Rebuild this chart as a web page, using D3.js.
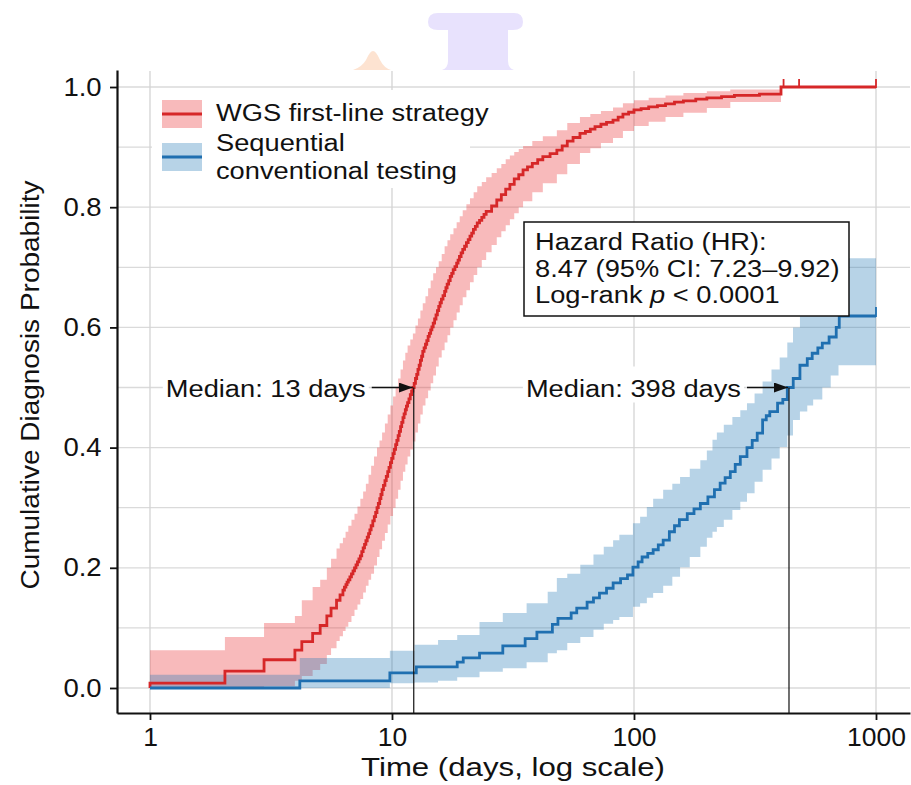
<!DOCTYPE html>
<html><head><meta charset="utf-8">
<script src="https://cdn.jsdelivr.net/npm/d3@7"></script>
<style>
body{margin:0;background:#fff}
svg{display:block}
text{font-family:"Liberation Sans", Arial, Helvetica, sans-serif; fill:#111}
</style>
</head><body>
<svg id="chart" width="911" height="785"></svg>
<script>
// ---------- DATA ----------
const xTickValues = [1, 10, 100, 1000];
const xTickLabels = ["1", "10", "100", "1000"];
const yTickValues = [0, 0.2, 0.4, 0.6, 0.8, 1.0];
const yTickLabels = ["0.0", "0.2", "0.4", "0.6", "0.8", "1.0"];
const yGridValues = [0, 0.1, 0.2, 0.3, 0.4, 0.5, 0.6, 0.7, 0.8, 0.9, 1.0];

const seriesNames = ["WGS first-line strategy", "Sequential|conventional testing"];

// WGS first-line strategy (Kaplan-Meier cumulative incidence)
const redTimes = [1,2.04,2.96,3.97,4.24,4.7,5.05,5.38,5.6,5.9,6.1,6.27,6.36,6.45,6.52,6.6,6.7,6.8,6.9,7.0,7.1,7.2,7.3,7.4,7.5,7.6,7.7,7.8,7.9,8.0,8.1,8.2,8.33,8.45,8.56,8.67,8.78,8.9,9.0,9.1,9.22,9.35,9.47,9.6,9.72,9.85,9.97,10.1,10.22,10.35,10.47,10.6,10.72,10.85,10.97,11.1,11.22,11.35,11.47,11.6,11.75,11.9,12.05,12.2,12.35,12.5,12.65,12.8,12.95,13.1,13.25,13.4,13.57,13.75,13.92,14.1,14.27,14.45,14.62,14.8,15.0,15.2,15.4,15.6,15.8,16.0,16.25,16.5,16.7,16.9,17.15,17.4,17.65,17.9,18.2,18.5,18.75,19.0,19.3,19.6,19.95,20.3,20.65,21.0,21.35,21.7,22.1,22.5,23.0,23.5,24.0,24.5,25.8,27.1,28.3,29.5,30.7,32,33.4,34.8,36.3,38,40,42,45,48,50.5,53,56,59.8,63,66,69,73,77,81.9,86,90,95,100,107,115,125,135,147,160,180,200,230,260,330,405,1000];
const redEst = [.008,.028,.047,.063,.077,.091,.104,.12,.133,.146,.155,.163,.168,.172,.176,.18,.185,.19,.195,.20,.205,.21,.215,.22,.227,.233,.239,.245,.251,.257,.263,.27,.278,.285,.292,.30,.307,.315,.322,.33,.337,.345,.352,.36,.367,.375,.382,.39,.397,.405,.412,.42,.427,.435,.442,.45,.456,.463,.469,.475,.481,.488,.494,.50,.507,.515,.522,.53,.537,.545,.552,.56,.566,.572,.578,.585,.59,.596,.601,.607,.614,.621,.628,.635,.641,.647,.653,.66,.666,.672,.678,.685,.69,.696,.701,.707,.712,.718,.724,.73,.735,.741,.746,.752,.757,.763,.768,.774,.778,.783,.788,.793,.802,.812,.821,.83,.838,.847,.854,.862,.867,.873,.879,.884,.889,.895,.902,.91,.916,.923,.926,.93,.934,.938,.941,.945,.95,.955,.958,.962,.964,.967,.969,.972,.975,.977,.98,.982,.984,.986,.988,1.0,1.0];
const redBandTimes = [1,2.04,2.96,3.97,4.24,4.7,5.05,5.38,5.6,5.9,6.08,6.27,6.43,6.6,6.8,7.0,7.2,7.4,7.6,7.8,8.0,8.2,8.43,8.67,8.88,9.1,9.35,9.6,9.85,10.1,10.35,10.6,10.85,11.1,11.35,11.6,11.9,12.2,12.5,12.8,13.1,13.4,13.75,14.1,14.45,14.8,15.2,15.6,16.05,16.5,16.95,17.4,17.95,18.5,19.05,19.6,20.3,21.0,21.75,22.5,23.5,24.5,25.8,27.1,28.3,29.5,30.7,32,33.4,34.8,38,42,48,53,59.8,66,73,81.9,90,100,115,135,160,200,250,405];
const redLower = [0,0,.003,.012,.02,.03,.04,.055,.066,.078,.086,.095,.102,.11,.12,.13,.139,.148,.159,.17,.18,.19,.204,.218,.231,.245,.258,.272,.286,.30,.315,.33,.345,.36,.372,.385,.397,.41,.425,.44,.455,.47,.482,.495,.507,.52,.535,.55,.562,.575,.587,.60,.612,.625,.637,.65,.662,.675,.687,.70,.712,.725,.737,.75,.76,.77,.78,.79,.80,.81,.825,.84,.855,.872,.89,.898,.907,.915,.927,.935,.942,.95,.957,.965,.975,1.0];
const redUpper = [.063,.085,.108,.12,.146,.168,.18,.2,.215,.232,.241,.25,.26,.27,.28,.29,.302,.315,.327,.34,.355,.37,.385,.40,.412,.425,.44,.455,.47,.485,.50,.515,.53,.545,.558,.57,.58,.59,.603,.615,.628,.64,.652,.665,.678,.69,.70,.71,.722,.735,.745,.755,.765,.775,.785,.795,.805,.815,.825,.835,.842,.85,.857,.865,.872,.88,.886,.892,.897,.902,.91,.918,.928,.94,.95,.955,.96,.966,.973,.978,.982,.986,.99,.993,.996,1.0];
const redCensorTimes = [415, 481, 1000];

// Sequential conventional testing
const blueTimes = [1,4.16,9.8,12.6,18.6,19.7,23,28.7,35.5,39.7,46,48.5,55,58,64,68,72,77,82,88,94,99,104,108,114,120,126,132,140,147,154,166,177,188,202,215,227,238,250,262,275,293,308,323,340,352,364,392,412,430,455,485,520,545,575,600,640,685,705,1000];
const blueEst = [0,.012,.025,.035,.043,.05,.058,.07,.082,.093,.106,.116,.125,.133,.143,.15,.158,.166,.175,.182,.188,.201,.21,.218,.224,.23,.238,.246,.26,.27,.28,.29,.298,.307,.318,.33,.341,.35,.36,.372,.385,.40,.412,.424,.446,.453,.46,.474,.48,.50,.515,.537,.548,.557,.566,.574,.584,.60,.619,.619];
const blueBandTimes = [1,4.16,9.8,12.4,15.5,18.6,23,28.7,36,44,48,53,60,68,75,82,87,99,106,113,120,132,144,155,170,188,200,211,220,235,255,275,293,315,340,370,400,430,454,485,520,550,600,650,700,1000];
const blueLower = [0,0,.008,.009,.012,.018,.027,.033,.043,.058,.063,.075,.085,.097,.107,.113,.118,.135,.141,.15,.158,.17,.185,.201,.218,.235,.25,.26,.268,.28,.296,.31,.324,.343,.363,.382,.401,.42,.446,.46,.47,.48,.50,.52,.537,.537];
const blueUpper = [.022,.05,.062,.072,.08,.088,.11,.125,.141,.16,.183,.19,.205,.222,.235,.246,.255,.274,.285,.301,.315,.33,.34,.351,.365,.379,.395,.413,.425,.438,.451,.462,.474,.49,.51,.53,.55,.575,.60,.625,.645,.66,.68,.70,.715,.715];
const blueCensorTimes = [1000];

// Median annotations (position where curve crosses 0.5, label text)
const medianLineTimes = [12.3, 437];
const medianProb = 0.5;
const medianLabels = ["Median: 13 days", "Median: 398 days"];

const statsLines = ["Hazard Ratio (HR):", "8.47 (95% CI: 7.23\u20139.92)", "Log-rank |p| < 0.0001"];

// ---------- LAYOUT ----------
const svg = d3.select("#chart");
const W = 911, H = 785;
svg.append("rect").attr("width", W).attr("height", H).attr("fill", "#fff");

const x = d3.scaleLog().domain([0.7306, 1382]).range([117, 910]);
const y = d3.scaleLinear().domain([-0.0416, 1.0283]).range([713, 70]);

const RED = "#d62728", RED_FILL = "#e8282a", BLUE = "#1f6fb0", BLUE_FILL = "#1f77b4";
const SX = 1.16;

function zip3(t, a, b) { const n = Math.min(t.length, a.length, b ? b.length : Infinity); const out = []; for (let i = 0; i < n; i++) out.push({t: t[i], a: a[i], b: b ? b[i] : null}); return out; }

// decorative shapes at top (present in source image)
svg.append("path")
  .attr("d", "M428,22 Q428,13 438,13 L514,13 Q523,13 523,22 Q523,30 513,30 L508,30 L508,61 Q508,68 514,70 L442,70 Q448,68 448,61 L448,30 L438,30 Q428,30 428,22 Z")
  .attr("fill", "#e8e2fd");
svg.append("path")
  .attr("d", "M353,70 Q362,67 366,60 Q370,51 373,51 Q376,51 380,60 Q384,68 391,70 Z")
  .attr("fill", "#fde3d1");

// gridlines
const grid = svg.append("g");
grid.selectAll("line.h").data(yGridValues).join("line")
  .attr("x1", 117).attr("x2", 910).attr("y1", d => y(d)).attr("y2", d => y(d))
  .attr("stroke", "#dadada").attr("stroke-width", 1.3);
grid.selectAll("line.v").data(xTickValues).join("line")
  .attr("x1", d => x(d)).attr("x2", d => x(d)).attr("y1", 71).attr("y2", 713)
  .attr("stroke", "#d4d4d4").attr("stroke-width", 1.3);

// bands
const area = d3.area().x(d => x(d.t)).y0(d => y(d.a)).y1(d => y(d.b)).curve(d3.curveStepAfter);
svg.append("path").datum(zip3(redBandTimes, redLower, redUpper)).attr("d", area)
  .attr("fill", RED_FILL).attr("fill-opacity", 0.32);
svg.append("path").datum(zip3(blueBandTimes, blueLower, blueUpper)).attr("d", area)
  .attr("fill", BLUE_FILL).attr("fill-opacity", 0.32);

// lines
const line = d3.line().x(d => x(d.t)).y(d => y(d.a)).curve(d3.curveStepAfter);
const redData = zip3(redTimes, redEst);
const blueData = zip3(blueTimes, blueEst);
svg.append("path").datum([{t: 1, a: 0}].concat(redData)).attr("d", line)
  .attr("fill", "none").attr("stroke", RED).attr("stroke-width", 2.8).attr("stroke-linejoin", "miter");
svg.append("path").datum(blueData).attr("d", line)
  .attr("fill", "none").attr("stroke", BLUE).attr("stroke-width", 2.8).attr("stroke-linejoin", "miter");

function stepValue(times, vals, t) { let v = vals[0]; for (let i = 0; i < times.length; i++) { if (times[i] <= t) v = vals[i]; } return v; }
svg.selectAll("line.rc").data(redCensorTimes).join("line")
  .attr("x1", d => x(d)).attr("x2", d => x(d))
  .attr("y1", d => y(stepValue(redTimes, redEst, d)) - 8).attr("y2", d => y(stepValue(redTimes, redEst, d)) + 1)
  .attr("stroke", RED).attr("stroke-width", 1.8);
svg.selectAll("line.bc").data(blueCensorTimes).join("line")
  .attr("x1", d => x(d)).attr("x2", d => x(d))
  .attr("y1", d => y(stepValue(blueTimes, blueEst, d)) - 9).attr("y2", d => y(stepValue(blueTimes, blueEst, d)) + 1)
  .attr("stroke", BLUE).attr("stroke-width", 1.8);

// median vertical lines
svg.selectAll("line.med").data(medianLineTimes).join("line")
  .attr("x1", d => x(d)).attr("x2", d => x(d)).attr("y1", y(medianProb)).attr("y2", 713)
  .attr("stroke", "#111").attr("stroke-width", 1.2);

// helper for stretched text
function stext(g, px, py, str, size, anchor, sx) {
  return g.append("text").attr("transform", `translate(${px},${py}) scale(${sx || SX},1)`)
    .attr("font-size", size).attr("text-anchor", anchor || "start").text(str);
}

// median labels with arrows
const defs = svg.append("defs");
defs.append("marker").attr("id", "arr").attr("viewBox", "0 0 14 10").attr("refX", 14).attr("refY", 5)
  .attr("markerWidth", 14).attr("markerHeight", 10).attr("markerUnits", "userSpaceOnUse").attr("orient", "auto")
  .append("path").attr("d", "M0,0 L14,5 L0,10 Z").attr("fill", "#111");

const medG = svg.append("g");
medianLineTimes.forEach((t, i) => {
  const tipX = x(t) - 1, tipY = y(medianProb);
  const textEnd = tipX - 47;
  const tmp = stext(medG, textEnd, tipY + 9, medianLabels[i], 23.5, "end");
  const bb = tmp.node().getBBox();
  const w = bb.width * SX;
  medG.insert("rect", "text").attr("x", textEnd - w - 3).attr("y", tipY - 21).attr("width", w + 6).attr("height", 36).attr("fill", "#fff");
  medG.append("line").attr("x1", textEnd + 6).attr("x2", tipX).attr("y1", tipY).attr("y2", tipY)
    .attr("stroke", "#111").attr("stroke-width", 1.6).attr("marker-end", "url(#arr)");
});

// legend
const leg = svg.append("g");
leg.append("rect").attr("x", 152).attr("y", 90).attr("width", 318).attr("height", 98).attr("fill", "#fff");
const legColors = [[RED, RED_FILL], [BLUE, BLUE_FILL]];
const swY = [100, 143];
seriesNames.forEach((name, i) => {
  leg.append("rect").attr("x", 162).attr("y", swY[i]).attr("width", 40).attr("height", 28)
    .attr("fill", legColors[i][1]).attr("fill-opacity", 0.32);
  leg.append("line").attr("x1", 162).attr("x2", 202).attr("y1", swY[i] + 14).attr("y2", swY[i] + 14)
    .attr("stroke", legColors[i][0]).attr("stroke-width", 2.8);
});
stext(leg, 216, 121, seriesNames[0], 23.5);
const parts = seriesNames[1].split("|");
stext(leg, 216, 151, parts[0], 23.5);
stext(leg, 216, 179, parts[1], 23.5);

// stats box
const box = svg.append("g");
box.append("rect").attr("x", 524).attr("y", 222).attr("width", 325).attr("height", 94)
  .attr("fill", "#fff").attr("stroke", "#111").attr("stroke-width", 1.5);
const statY = [250, 277, 303];
statsLines.forEach((s, i) => {
  const tEl = box.append("text").attr("transform", `translate(535,${statY[i]}) scale(${SX},1)`).attr("font-size", 23.5);
  const segs = s.split("|");
  segs.forEach((seg, k) => { tEl.append("tspan").attr("font-style", k === 1 ? "italic" : "normal").text(seg); });
});

// axes
const xAxis = d3.axisBottom(x).tickValues(xTickValues).tickFormat((d, i) => xTickLabels[i]).tickSize(7).tickSizeOuter(0).tickPadding(6);
const gx = svg.append("g").attr("transform", "translate(0,713)").call(xAxis);
gx.select(".domain").attr("stroke", "#111").attr("stroke-width", 2.2);
gx.selectAll(".tick line").attr("stroke", "#111").attr("stroke-width", 1.8);
gx.selectAll(".tick text").attr("font-size", 25).attr("fill", "#111").attr("font-family", "Liberation Sans, Arial, sans-serif")
  .attr("dy", "0.8em").attr("transform", "scale(1.06,1)");

const yAxis = d3.axisLeft(y).tickValues(yTickValues).tickFormat((d, i) => yTickLabels[i]).tickSize(7).tickSizeOuter(0).tickPadding(7);
const gy = svg.append("g").attr("transform", "translate(117,0)").call(yAxis);
gy.select(".domain").attr("stroke", "#111").attr("stroke-width", 2.2);
gy.selectAll(".tick line").attr("stroke", "#111").attr("stroke-width", 1.8);
gy.selectAll(".tick text").attr("font-size", 25).attr("fill", "#111").attr("font-family", "Liberation Sans, Arial, sans-serif")
  .attr("transform", "scale(1.1,1)");

// axis titles
stext(svg, 513, 776, "Time (days, log scale)", 26, "middle", 1.2);
svg.append("text").attr("transform", "translate(39,385) rotate(-90) scale(1.12,1)")
  .attr("font-size", 25).attr("text-anchor", "middle").text("Cumulative Diagnosis Probability");
</script>
</body></html>
